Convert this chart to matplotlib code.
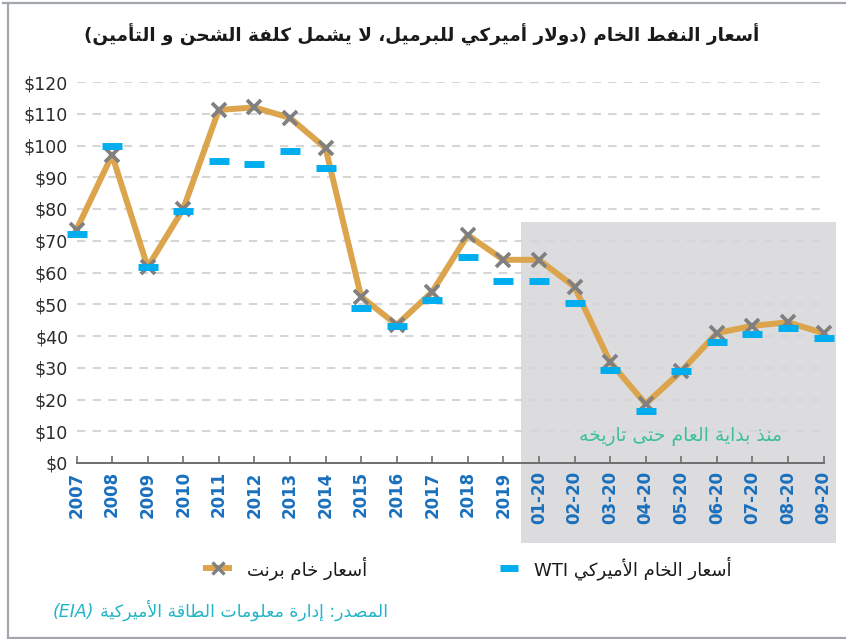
import re
import matplotlib
matplotlib.use('Agg')
import matplotlib.pyplot as plt
from matplotlib.patches import Rectangle
from matplotlib.lines import Line2D

#
# data
#
periods = ['2007', '2008', '2009', '2010', '2011', '2012', '2013', '2014', '2015',
           '2016', '2017', '2018', '2019', '01-20', '02-20', '03-20', '04-20',
           '05-20', '06-20', '07-20', '08-20', '09-20']
brent = [73.5, 97.0, 61.7, 80.0, 111.2, 112.0, 108.7, 99.2, 52.4, 43.5, 53.9,
         71.8, 64.0, 64.0, 55.5, 31.8, 18.6, 28.9, 40.9, 43.2, 44.3, 40.9]
wti = [72.2, 99.8, 61.7, 79.4, 95.1, 94.2, 98.3, 92.9, 48.8, 43.3, 51.3,
       64.9, 57.3, 57.3, 50.4, 29.3, 16.4, 29.0, 38.1, 40.6, 42.5, 39.4]
yticks = [0, 10, 20, 30, 40, 50, 60, 70, 80, 90, 100, 110, 120]
ytick_labels = ['$' + str(v) for v in yticks]
ytd_start = 12.5   # shaded part starts between 2019 and 01-20

title = 'أسعار النفط الخام (دولار أميركي للبرميل، لا يشمل كلفة الشحن و التأمين)'
brent_label = 'أسعار خام برنت'
wti_label = 'أسعار الخام الأميركي WTI'
ytd_label = 'منذ بداية العام حتى تاريخه'
source_label = 'المصدر: إدارة معلومات الطاقة الأميركية'
source_tag = '(EIA)'

#
# small arabic shaper (matplotlib draws glyphs one by one, left to right)
#
FORMS = {
    '\u0621': (0xFE80, 1), '\u0622': (0xFE81, 2), '\u0623': (0xFE83, 2),
    '\u0624': (0xFE85, 2), '\u0625': (0xFE87, 2), '\u0626': (0xFE89, 4),
    '\u0627': (0xFE8D, 2), '\u0628': (0xFE8F, 4), '\u0629': (0xFE93, 2),
    '\u062A': (0xFE95, 4), '\u062B': (0xFE99, 4), '\u062C': (0xFE9D, 4),
    '\u062D': (0xFEA1, 4), '\u062E': (0xFEA5, 4), '\u062F': (0xFEA9, 2),
    '\u0630': (0xFEAB, 2), '\u0631': (0xFEAD, 2), '\u0632': (0xFEAF, 2),
    '\u0633': (0xFEB1, 4), '\u0634': (0xFEB5, 4), '\u0635': (0xFEB9, 4),
    '\u0636': (0xFEBD, 4), '\u0637': (0xFEC1, 4), '\u0638': (0xFEC5, 4),
    '\u0639': (0xFEC9, 4), '\u063A': (0xFECD, 4), '\u0641': (0xFED1, 4),
    '\u0642': (0xFED5, 4), '\u0643': (0xFED9, 4), '\u0644': (0xFEDD, 4),
    '\u0645': (0xFEE1, 4), '\u0646': (0xFEE5, 4), '\u0647': (0xFEE9, 4),
    '\u0648': (0xFEED, 2), '\u0649': (0xFEEF, 2), '\u064A': (0xFEF1, 4),
}
LAM_ALEF = {'\u0622': 0xFEF5, '\u0623': 0xFEF7, '\u0625': 0xFEF9, '\u0627': 0xFEFB}
MIRROR = {'(': ')', ')': '('}


def shape(s):
    tokens = []
    i = 0
    while i < len(s):
        c = s[i]
        if c == '\u0644' and i + 1 < len(s) and s[i + 1] in LAM_ALEF:
            tokens.append((LAM_ALEF[s[i + 1]], 2))
            i += 2
        elif c in FORMS:
            tokens.append(FORMS[c])
            i += 1
        else:
            tokens.append((c, 0))
            i += 1
    out = []
    for j, (base, n) in enumerate(tokens):
        if n == 0:
            out.append(base)
            continue
        prev = j > 0 and tokens[j - 1][1] == 4
        nxt = n == 4 and j + 1 < len(tokens) and tokens[j + 1][1] >= 2
        if n == 1:
            k = 0
        elif prev and nxt:
            k = 3
        elif prev:
            k = 1
        elif nxt:
            k = 2
        else:
            k = 0
        out.append(chr(base + k))
    return ''.join(out)


def rtl(s):
    runs = re.findall(r'[A-Za-z0-9]+|[^A-Za-z0-9]+', shape(s))
    out = []
    for r in reversed(runs):
        if re.match(r'[A-Za-z0-9]', r):
            out.append(r)
        else:
            out.append(''.join(MIRROR.get(c, c) for c in reversed(r)))
    return ''.join(out)


#
# figure
#
plt.rcParams['font.family'] = ['DejaVu Sans']
W, H = 846, 639
fig = plt.figure(figsize=(W / 100, H / 100), dpi=100)
fig.patch.set_facecolor('white')

ax = fig.add_axes([76.5 / W, 1 - 463 / H, 747 / W, 381 / H])
ax.set_facecolor('none')
x = list(range(len(periods)))
ax.set_xlim(0, len(periods) - 1)
ax.set_ylim(0, 120)

# shaded "year to date" block, behind the axes
x0 = ax.transData.transform((ytd_start, 0))[0] / W
fig.patches.append(Rectangle((x0, 1 - 543 / H), 836 / W - x0, (543 - 222) / H,
                             transform=fig.transFigure, facecolor='#dcdcde',
                             edgecolor='none', zorder=-1))

# outer frame (top, left, bottom)
for xs, ys in [([3 / W, 1], [1 - 3 / H, 1 - 3 / H]),
               ([8 / W, 8 / W], [1 / H, 1 - 3 / H]),
               ([8 / W, 1], [1.5 / H, 1.5 / H])]:
    fig.add_artist(Line2D(xs, ys, transform=fig.transFigure, color='#a3a7ad', lw=1.6))

#
# series
#
ax.plot(x, brent, color='#dca44c', lw=4.3, zorder=3, clip_on=False)
ax.plot(x, brent, linestyle='none', marker='x', markersize=10, markeredgewidth=2.7,
        color='#808080', zorder=4, clip_on=False)
ax.plot(x, wti, linestyle='none', marker='_', markersize=14, markeredgewidth=5,
        color='#00aeef', zorder=5, clip_on=False)

#
# axes styling
#
ax.set_yticks(yticks)
ax.set_yticklabels(ytick_labels)
ax.set_xticks(x)
ax.set_xticklabels(periods)
ax.yaxis.grid(True, linestyle=(0, (4, 3.5)), color='#d6d6d6', lw=1.5)
ax.set_axisbelow(True)
for side in ['top', 'right', 'left']:
    ax.spines[side].set_visible(False)
ax.spines['bottom'].set_color('#6e6e6e')
ax.spines['bottom'].set_linewidth(1.4)
ax.tick_params(axis='y', length=0, pad=6, labelsize=12.5, labelcolor='#2b2b2b')
ax.tick_params(axis='x', direction='in', length=5, width=1.2, color='#6e6e6e',
               pad=6, labelsize=12, labelcolor='#1a70bd', labelrotation=90)
for lbl in ax.get_xticklabels():
    lbl.set_fontweight('semibold')

#
# texts
#
fig.text(422 / W, 1 - 35 / H, rtl(title), ha='center', va='center',
         fontsize=13.2, fontweight='bold', color='#1a1a1a')
fig.text(782 / W, 1 - 436 / H, rtl(ytd_label), ha='right', va='center',
         fontsize=13.5, color='#3dbf9c')

# legend drawn by hand
ly = 1 - 568 / H
fig.add_artist(Line2D([206 / W, 229 / W], [ly, ly], transform=fig.transFigure,
                      color='#dca44c', lw=4.3))
fig.add_artist(Line2D([217.5 / W], [ly], transform=fig.transFigure, marker='x',
                      markersize=8, markeredgewidth=2.4, color='#808080'))
fig.text(367 / W, ly, rtl(brent_label), ha='right', va='center', fontsize=13,
         color='#1a1a1a')
fig.add_artist(Line2D([509 / W], [ly], transform=fig.transFigure, marker='_',
                      markersize=13, markeredgewidth=5, color='#00aeef'))
fig.text(731 / W, ly, rtl(wti_label), ha='right', va='center', fontsize=13,
         color='#1a1a1a')

# source line, the latin tag sits left of the arabic text
sy = 1 - 610 / H
src = fig.text(388 / W, sy, rtl(source_label), ha='right', va='center', fontsize=12.5,
               color='#22b4c8')
left_px = src.get_window_extent(fig.canvas.get_renderer()).x0
fig.text((left_px - 6) / W, sy - 2 / H, source_tag, ha='right', va='center',
         fontsize=12.5, style='italic', color='#22b4c8')

fig.savefig('out.png', dpi=100)
